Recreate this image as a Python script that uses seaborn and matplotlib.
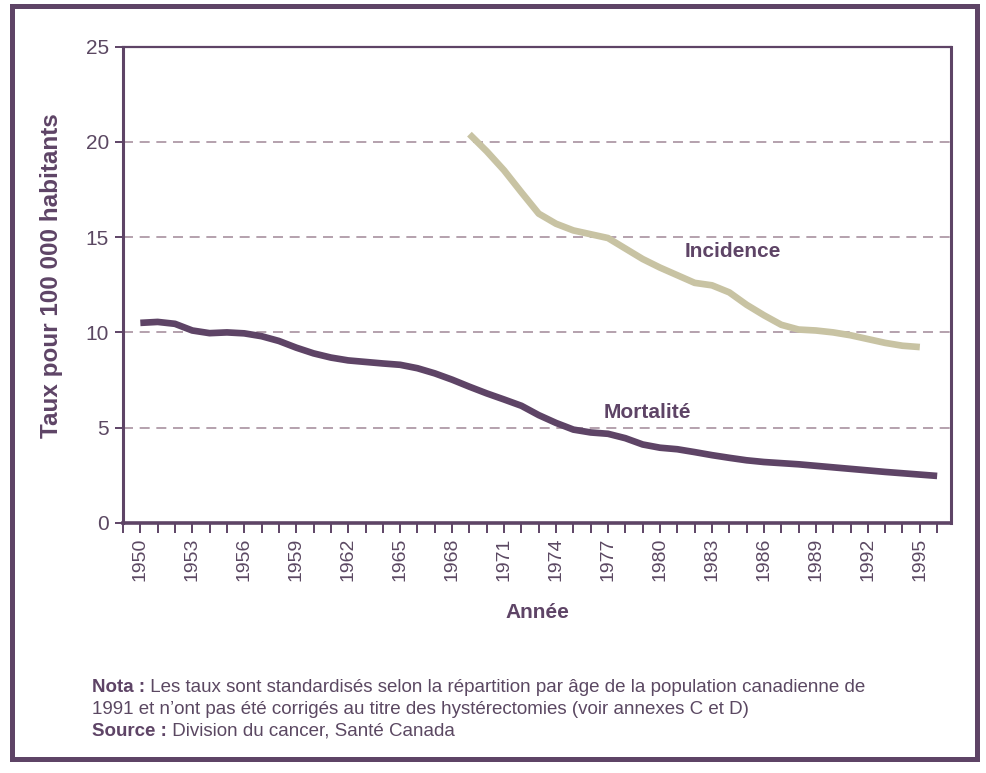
import matplotlib
matplotlib.use("Agg")
import matplotlib.pyplot as plt
import seaborn as sns
import pandas as pd
from matplotlib.patches import Rectangle
from matplotlib.ticker import MultipleLocator, FixedLocator

# Data (taux pour 100 000)
years_mortality = list(range(1950, 1997))
mortality = [10.5, 10.55, 10.45, 10.1, 9.96, 10.0, 9.95, 9.8, 9.55, 9.2,
             8.9, 8.68, 8.53, 8.45, 8.37, 8.3, 8.12, 7.85, 7.52, 7.15,
             6.8, 6.48, 6.15, 5.66, 5.25, 4.9, 4.75, 4.68, 4.45, 4.12,
             3.95, 3.87, 3.72, 3.56, 3.42, 3.29, 3.2, 3.14, 3.08, 3.0,
             2.92, 2.84, 2.76, 2.68, 2.61, 2.54, 2.47]
years_incidence = list(range(1969, 1996))
incidence = [20.4, 19.5, 18.5, 17.35, 16.23, 15.7, 15.35, 15.15, 14.95, 14.4,
             13.85, 13.4, 13.0, 12.6, 12.47, 12.1, 11.45, 10.9, 10.4, 10.15,
             10.1, 10.0, 9.85, 9.65, 9.45, 9.3, 9.23]
y_ticks = [0, 5, 10, 15, 20, 25]
grid_levels = [5, 10, 15, 20]
x_label_years = list(range(1950, 1996, 3))

purple = '#5E4466'
text_col = '#5B4862'
beige = '#C8C3A3'
grid_col = '#A8919F'
narrow = ['Liberation Sans Narrow', 'Liberation Sans', 'DejaVu Sans']
regular = ['Liberation Sans', 'DejaVu Sans']

sns.set_style('white')
plt.rcParams['font.family'] = narrow

fig = plt.figure(figsize=(9.87, 7.73), dpi=100)
ax = fig.add_axes([123 / 987, 1 - 523 / 773, (951 - 123) / 987, (523 - 46.5) / 773])

df_m = pd.DataFrame({'Année': years_mortality, 'Taux': mortality})
df_i = pd.DataFrame({'Année': years_incidence, 'Taux': incidence})

# dashed horizontal reference lines
for lvl in grid_levels:
    ax.axhline(lvl, color=grid_col, lw=1.2, ls=(0, (6, 4)), zorder=1)

sns.lineplot(data=df_i, x='Année', y='Taux', color=beige, lw=4.8, ax=ax,
             solid_capstyle='butt', solid_joinstyle='round', zorder=3)
sns.lineplot(data=df_m, x='Année', y='Taux', color=purple, lw=4.8, ax=ax,
             solid_capstyle='butt', solid_joinstyle='round', zorder=3)

ax.set_xlim(1949, 1996.8)
ax.set_ylim(0, 25)

ax.xaxis.set_major_locator(FixedLocator(x_label_years))
ax.xaxis.set_minor_locator(MultipleLocator(1))
ax.set_yticks(y_ticks)
ax.tick_params(axis='x', which='both', direction='out', length=7, width=1.4,
               color=purple, bottom=True)
ax.tick_params(axis='y', direction='out', length=6, width=1.4, color=purple,
               left=True, labelsize=15, labelcolor=text_col, pad=4)
ax.set_xticklabels([str(y) for y in x_label_years], rotation=90,
                   fontfamily=regular, fontsize=14, color=text_col)
for lab in ax.get_yticklabels():
    lab.set_fontfamily(narrow)

for side in ['left', 'right', 'top', 'bottom']:
    ax.spines[side].set_visible(True)
    ax.spines[side].set_color(purple)
ax.spines['left'].set_linewidth(2.2)
ax.spines['right'].set_linewidth(2.2)
ax.spines['top'].set_linewidth(1.6)
ax.spines['bottom'].set_linewidth(2.6)

ax.set_xlabel('')
ax.set_ylabel('Taux pour 100 000 habitants', fontweight='bold', fontfamily=regular,
              fontsize=17.5, color=purple)
ax.yaxis.set_label_coords(-0.072, 0.52)

# series labels
ax.text(1984.2, 14.26, 'Incidence', ha='center', va='center', fontsize=15,
        fontweight='bold', color=purple)
ax.text(1979.3, 5.82, 'Mortalité', ha='center', va='center', fontsize=15,
        fontweight='bold', color=purple)

fig.text(537 / 987, 1 - 613 / 773, 'Année', ha='center', va='center', fontsize=15,
         fontweight='bold', color=purple)

# footnote
note_size = 13.5
nota = fig.text(92 / 987, 1 - 692 / 773, 'Nota :', fontsize=note_size, fontweight='bold',
                color=purple, va='baseline')
ax.annotate(' Les taux sont standardisés selon la répartition par âge de la population canadienne de',
            xy=(1, 0), xycoords=nota, va='bottom', fontsize=note_size, color=text_col,
            annotation_clip=False)
fig.text(92 / 987, 1 - 714 / 773,
         '1991 et n\u2019ont pas été corrigés au titre des hystérectomies (voir annexes C et D)',
         fontsize=note_size, color=text_col, va='baseline')
src = fig.text(92 / 987, 1 - 736 / 773, 'Source :', fontsize=note_size, fontweight='bold',
               color=purple, va='baseline')
ax.annotate(' Division du cancer, Santé Canada', xy=(1, 0), xycoords=src, va='bottom',
            fontsize=note_size, color=text_col, annotation_clip=False)

# outer frame
fig.patches.append(Rectangle((12.5 / 987, 1 - 759 / 773), (977 - 12.5) / 987, (759 - 6) / 773,
                             transform=fig.transFigure, fill=False, ec=purple, lw=3.6))

fig.savefig('out.png', dpi=100)
